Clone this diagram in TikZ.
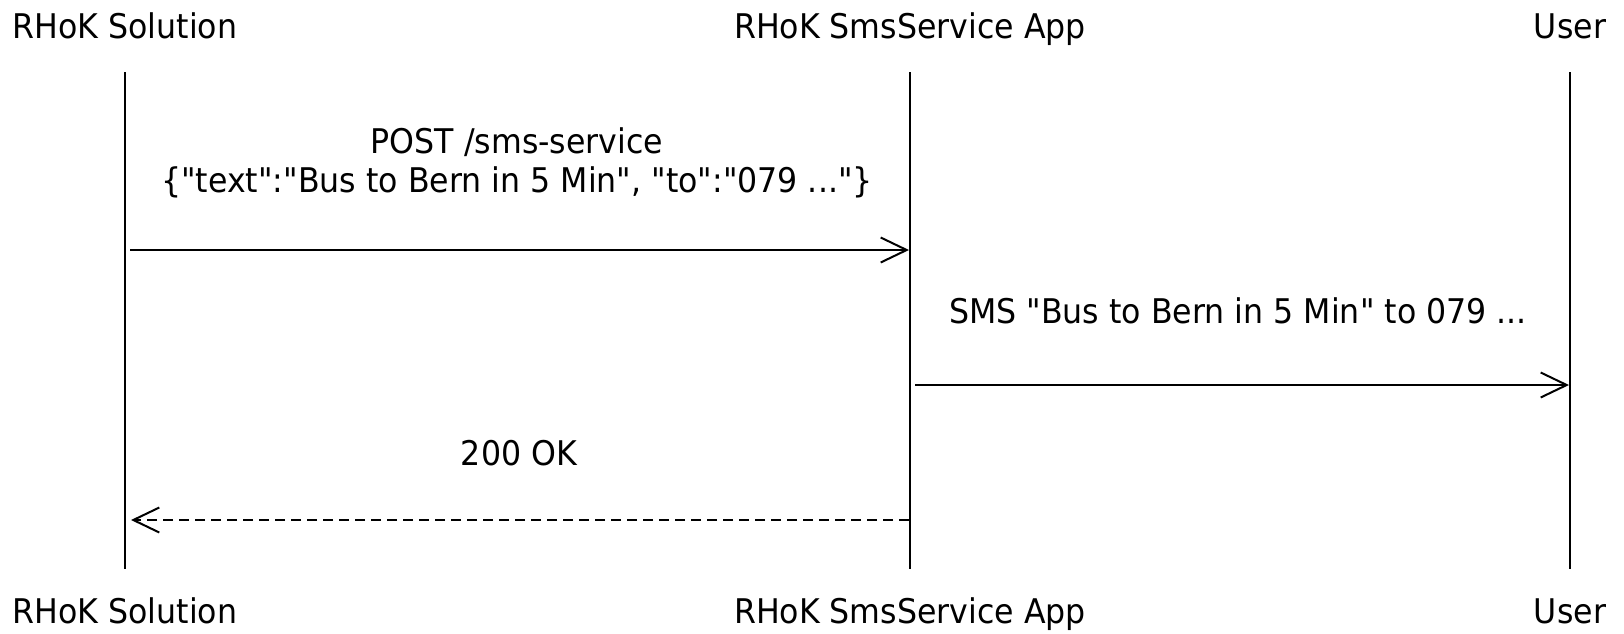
\documentclass[tikz,border=0pt]{standalone}
\usepackage{fontspec}
\newfontfamily\dvsans{DejaVu Sans}[FakeStretch=0.93]
\usetikzlibrary{arrows.meta}
\begin{document}
\begin{tikzpicture}[x=0.5pt,y=-0.5pt,
  lbl/.style={font=\dvsans\fontsize{17pt}{19.5pt}\selectfont, inner sep=0pt, anchor=base},
  life/.style={line width=1pt},
  msg/.style={line width=1pt, -{Straight Barb[length=13pt,width=12.5pt,line width=1pt]}},
  reply/.style={msg, dash pattern=on 5pt off 3pt}]
\useasboundingbox (0,0) rectangle (1624,633);
% participants
\node[lbl] (sTop) at (125,38) {RHoK Solution};
\node[lbl] (aTop) at (910,38) {RHoK SmsService App};
\node[lbl] (uTop) at (1570,38) {User};
\node[lbl] (sBot) at (125,623) {RHoK Solution};
\node[lbl] (aBot) at (910,623) {RHoK SmsService App};
\node[lbl] (uBot) at (1570,623) {User};
% lifeline ends
\coordinate (s1) at (125,72); \coordinate (s2) at (125,569);
\coordinate (a1) at (910,72); \coordinate (a2) at (910,569);
\coordinate (u1) at (1570,72); \coordinate (u2) at (1570,569);
\draw[life] (s1) -- (s2);
\draw[life] (a1) -- (a2);
\draw[life] (u1) -- (u2);
% messages
\coordinate (m1s) at (130,250); \coordinate (m1e) at (909,250);
\coordinate (m2s) at (915,385); \coordinate (m2e) at (1569,385);
\coordinate (m3s) at (909,520); \coordinate (m3e) at (131,520);
\draw[msg] (m1s) -- (m1e);
\draw[msg] (m2s) -- (m2e);
\draw[reply] (m3s) -- (m3e);
% message labels
\node[lbl] (l1a) at (517,153) {POST /sms-service};
\node[lbl] (l1b) at (517,192) {\{"text":"Bus to Bern in 5 Min", "to":"079 ..."\}};
\node[lbl] (l2) at (1238,323) {SMS "Bus to Bern in 5 Min" to 079 ...};
\node[lbl] (l3) at (519,465) {200 OK};
\end{tikzpicture}
\end{document}
